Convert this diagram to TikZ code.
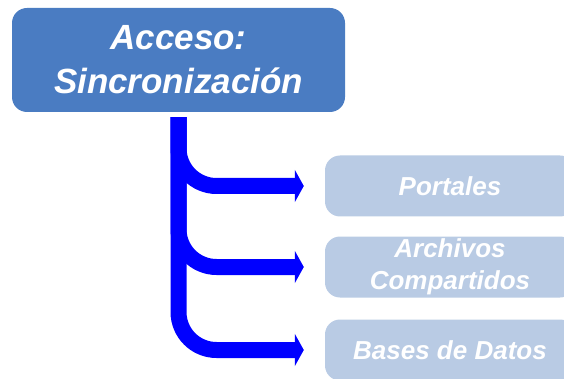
\documentclass[tikz,border=0pt]{standalone}
\usepackage{fontspec}
\setsansfont{Liberation Sans}
\usetikzlibrary{arrows.meta}
\definecolor{azulfuerte}{HTML}{4A7CC2}
\definecolor{azulclaro}{HTML}{B9CBE4}
\definecolor{flechaazul}{HTML}{0000FF}

\begin{document}
\begin{tikzpicture}[x=1pt,y=-1pt,
    caja/.style={rounded corners=15pt, inner sep=0pt, align=center,
        text=white, font=\sffamily\bfseries\itshape},
    flecha/.style={flechaazul, line width=16pt, rounded corners=38pt,
        shorten <=5pt, shorten >=21pt,
        -{Triangle[length=9pt,width=32pt]}}]

\useasboundingbox (0,0) rectangle (564,379);

\node [caja,
    fill=azulfuerte,
    minimum width=333pt,
    minimum height=104pt,
    font=\sffamily\bfseries\itshape\fontsize{35}{44}\selectfont] (acceso) at (178.5,60) {Acceso:\\Sincronización};

\node [caja,
    fill=azulclaro,
    minimum width=250pt,
    minimum height=61pt,
    font=\sffamily\bfseries\itshape\fontsize{26}{32}\selectfont] (portales) at (450,186) {Portales};

\node [caja,
    fill=azulclaro,
    minimum width=250pt,
    minimum height=61pt,
    font=\sffamily\bfseries\itshape\fontsize{26}{32}\selectfont] (archivos) at (450,267) {Archivos\\Compartidos};

\node [caja,
    fill=azulclaro,
    minimum width=250pt,
    minimum height=61pt,
    font=\sffamily\bfseries\itshape\fontsize{26}{32}\selectfont] (bases) at (450,350) {Bases de Datos};

\draw [flecha] (acceso.south) |- (portales.west);
\draw [flecha] (acceso.south) |- (archivos.west);
\draw [flecha] (acceso.south) |- (bases.west);

\end{tikzpicture}
\end{document}
